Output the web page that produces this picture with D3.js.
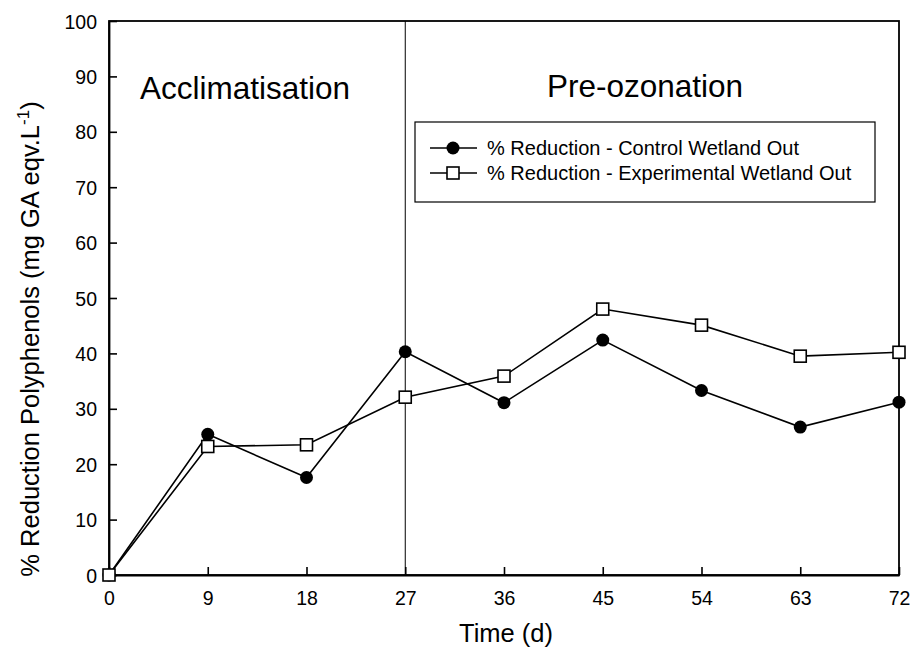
<!DOCTYPE html>
<html>
<head>
<meta charset="utf-8">
<script src="https://cdn.jsdelivr.net/npm/d3@7/dist/d3.min.js"></script>
<style>
  html, body { margin: 0; padding: 0; background: #fff; }
  svg { display: block; }
  text { font-family: Arial, "Liberation Sans", sans-serif; fill: #000; }
</style>
</head>
<body>
<svg id="chart" width="916" height="658"></svg>
<script>
const days = [0, 9, 18, 27, 36, 45, 54, 63, 72];
const controlOut = [0, 25.4, 17.6, 40.3, 31.1, 42.4, 33.3, 26.7, 31.2];
const experimentalOut = [0, 23.2, 23.5, 32.1, 35.9, 48.0, 45.1, 39.5, 40.2];
const xTicks = [0, 9, 18, 27, 36, 45, 54, 63, 72];
const yTicks = [0, 10, 20, 30, 40, 50, 60, 70, 80, 90, 100];
const seriesNames = ["% Reduction - Control Wetland Out", "% Reduction - Experimental Wetland Out"];
const phaseLabels = ["Acclimatisation", "Pre-ozonation"];
const phaseBoundary = 27;

const svg = d3.select("#chart");
const L = 109, R = 899, T = 21, B = 575;
const x = d3.scaleLinear().domain([0, 72]).range([L, R]);
const y = d3.scaleLinear().domain([0, 100]).range([B, T]);

// frame
svg.append("rect").attr("x", L).attr("y", T).attr("width", R - L).attr("height", B - T)
  .attr("fill", "none").attr("stroke", "#000").attr("stroke-width", 1.8);

// axes with inward ticks
const xAxis = svg.append("g").attr("transform", `translate(0,${B})`)
  .call(d3.axisBottom(x).tickValues(xTicks).tickSizeInner(-8).tickSizeOuter(0).tickPadding(20));
const yAxis = svg.append("g").attr("transform", `translate(${L},0)`)
  .call(d3.axisLeft(y).tickValues(yTicks).tickSizeInner(-8).tickSizeOuter(0).tickPadding(20));
[xAxis, yAxis].forEach(g => {
  g.attr("font-size", 19).attr("font-family", "Arial, 'Liberation Sans', sans-serif");
  g.select(".domain").attr("stroke", "#000").attr("stroke-width", 1.8);
  g.selectAll(".tick line").attr("stroke", "#000").attr("stroke-width", 1.6);
  g.selectAll(".tick text").attr("font-size", 19.5).attr("fill", "#000");
});
xAxis.selectAll(".tick text").attr("dy", "0.71em").attr("y", 16);
yAxis.selectAll(".tick text").attr("x", -12).attr("dy", "0.36em");

// phase boundary
svg.append("line").attr("x1", x(phaseBoundary)).attr("x2", x(phaseBoundary))
  .attr("y1", T).attr("y2", B).attr("stroke", "#000").attr("stroke-width", 1);

// phase labels
svg.append("text").attr("x", 140).attr("y", 99).attr("font-size", 31.5).text(phaseLabels[0]);
svg.append("text").attr("x", 547).attr("y", 97).attr("font-size", 31.5).text(phaseLabels[1]);

// lines
const line = d3.line().x((d, i) => x(days[i])).y(d => y(d));
[controlOut, experimentalOut].forEach(vals => {
  svg.append("path").datum(vals).attr("d", line).attr("fill", "none")
    .attr("stroke", "#000").attr("stroke-width", 1.6);
});

// markers
svg.append("g").selectAll("circle").data(controlOut).join("circle")
  .attr("cx", (d, i) => x(days[i])).attr("cy", d => y(d)).attr("r", 6.5).attr("fill", "#000");
const s = 12;
svg.append("g").selectAll("rect").data(experimentalOut).join("rect")
  .attr("x", (d, i) => x(days[i]) - s / 2).attr("y", d => y(d) - s / 2)
  .attr("width", s).attr("height", s).attr("fill", "#fff").attr("stroke", "#000").attr("stroke-width", 1.6);

// legend
const lg = svg.append("g");
lg.append("rect").attr("x", 415).attr("y", 122).attr("width", 460).attr("height", 80)
  .attr("fill", "#fff").attr("stroke", "#000").attr("stroke-width", 1.2);
const rows = [148, 173];
rows.forEach((ry, i) => {
  lg.append("line").attr("x1", 430).attr("x2", 477).attr("y1", ry).attr("y2", ry)
    .attr("stroke", "#000").attr("stroke-width", 1.6);
  if (i === 0) {
    lg.append("circle").attr("cx", 453).attr("cy", ry).attr("r", 6.5).attr("fill", "#000");
  } else {
    lg.append("rect").attr("x", 453 - s / 2).attr("y", ry - s / 2).attr("width", s).attr("height", s)
      .attr("fill", "#fff").attr("stroke", "#000").attr("stroke-width", 1.6);
  }
  lg.append("text").attr("x", 487).attr("y", ry).attr("dy", "0.35em").attr("font-size", 20).text(seriesNames[i]);
});

// axis titles
svg.append("text").attr("x", 506).attr("y", 642).attr("text-anchor", "middle").attr("font-size", 25.5).text("Time (d)");
const yt = svg.append("text").attr("transform", "translate(39,339) rotate(-90)")
  .attr("text-anchor", "middle").attr("font-size", 25.5);
yt.append("tspan").text("% Reduction Polyphenols (mg GA eqv.L");
yt.append("tspan").attr("dy", -10).attr("font-size", 17).text("-1");
yt.append("tspan").attr("dy", 10).text(")");
</script>
</body>
</html>
